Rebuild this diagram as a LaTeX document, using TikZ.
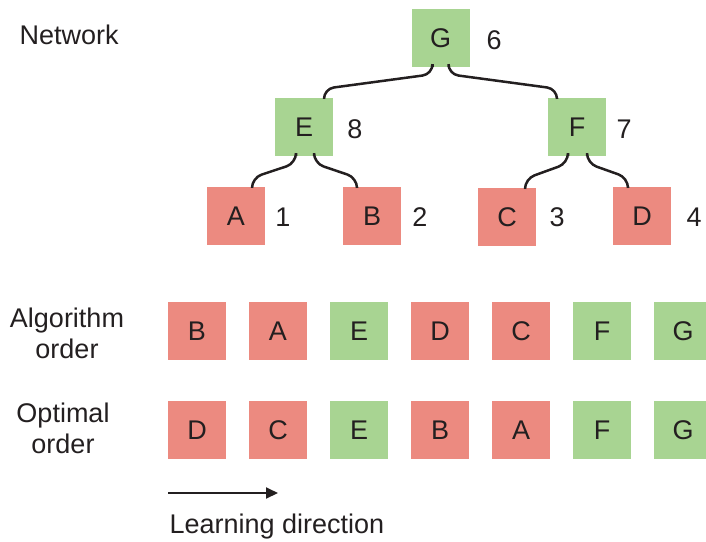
\documentclass[tikz,border=0pt]{standalone}
\usepackage{fontspec}
\setmainfont{Liberation Sans}
\usetikzlibrary{arrows.meta,positioning}
\definecolor{leafred}{RGB}{236,138,128}
\definecolor{mergegreen}{RGB}{168,212,146}
\definecolor{inkblack}{RGB}{35,31,32}
% parent, shift at parent, child, shift at child
\newcommand{\branch}[4]{\draw[link] ([xshift=#2pt]#1.south) -- ++(0,-7pt)
  -- ([xshift=#4pt,yshift=9pt]#3.north) -- ([xshift=#4pt]#3.north);}

\begin{document}
\begin{tikzpicture}[x=1pt,y=-1pt,
  every node/.style={text=inkblack,font=\fontsize{27}{31}\selectfont},
  box/.style={minimum width=58pt,minimum height=58pt,inner sep=0pt},
  leafbox/.style={box,fill=leafred},
  mergebox/.style={box,fill=mergegreen},
  num/.style={inner sep=0pt},
  link/.style={draw=inkblack,line width=2.5pt,rounded corners=10pt}]
  \useasboundingbox (0,0) rectangle (706,541);
  %draw the tree
  \node[anchor=base west] (nettext) at (16,44) {Network};
  \node[mergebox] (G) at (440.5,38) {G};
  \node[mergebox] (E) at (304,127) {E};
  \node[mergebox] (F) at (577,127) {F};
  \node[leafbox] (A) at (236,216) {A};
  \node[leafbox] (B) at (372,216) {B};
  \node[leafbox] (C) at (507,217) {C};
  \node[leafbox] (D) at (642,216) {D};
  \node[num] (nG) at (494,40) {6};
  \node[num] (nE) at (355,129) {8};
  \node[num] (nF) at (624,129) {7};
  \node[num] (nA) at (283,217) {1};
  \node[num] (nB) at (420,217) {2};
  \node[num] (nC) at (557,217) {3};
  \node[num] (nD) at (694,217) {4};
  \branch{G}{-8}{E}{20}
  \branch{G}{8}{F}{-20}
  \branch{E}{-8}{A}{16}
  \branch{E}{10}{B}{-15}
  \branch{F}{-9}{C}{18}
  \branch{F}{10}{D}{-14}
  %draw the two orders
  \node[align=center] (algtext) at (67,333) {Algorithm\\order};
  \node[align=center] (opttext) at (63,428) {Optimal\\order};
  \foreach \ltr/\kind [count=\i from 0] in
    {B/leafbox,A/leafbox,E/mergebox,D/leafbox,C/leafbox,F/mergebox,G/mergebox}
    \node[\kind] (alg\i) at (197+81*\i,331) {\ltr};
  \foreach \ltr/\kind [count=\i from 0] in
    {D/leafbox,C/leafbox,E/mergebox,B/leafbox,A/leafbox,F/mergebox,G/mergebox}
    \node[\kind] (opt\i) at (197+81*\i,430) {\ltr};
  %draw the direction arrow
  \coordinate (dirstart) at (168,493);
  \coordinate (dirend) at (278,493);
  \draw[-{Triangle[length=12pt,width=11pt]},line width=2pt,inkblack]
    (dirstart) -- (dirend);
  \node[anchor=base west] (dirtext) at (166,533) {Learning direction};
\end{tikzpicture}
\end{document}
